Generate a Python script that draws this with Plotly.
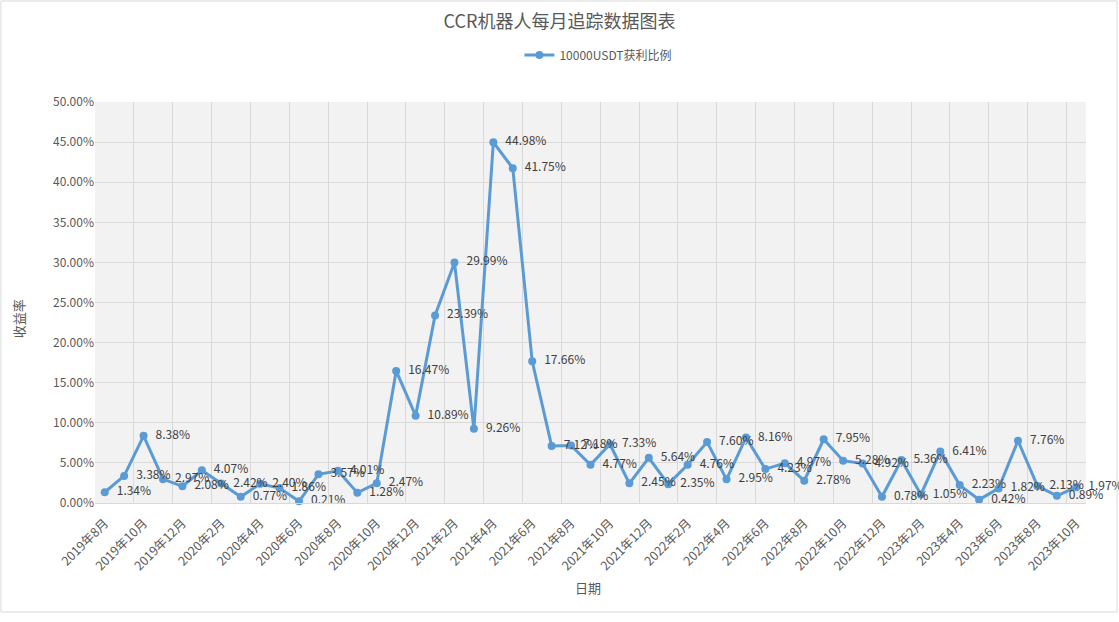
import plotly.graph_objects as go

months = [
    "2019年8月", "2019年9月", "2019年10月", "2019年11月", "2019年12月",
    "2020年1月", "2020年2月", "2020年3月", "2020年4月", "2020年5月", "2020年6月",
    "2020年7月", "2020年8月", "2020年9月", "2020年10月", "2020年11月", "2020年12月",
    "2021年1月", "2021年2月", "2021年3月", "2021年4月", "2021年5月", "2021年6月",
    "2021年7月", "2021年8月", "2021年9月", "2021年10月", "2021年11月", "2021年12月",
    "2022年1月", "2022年2月", "2022年3月", "2022年4月", "2022年5月", "2022年6月",
    "2022年7月", "2022年8月", "2022年9月", "2022年10月", "2022年11月", "2022年12月",
    "2023年1月", "2023年2月", "2023年3月", "2023年4月", "2023年5月", "2023年6月",
    "2023年7月", "2023年8月", "2023年9月", "2023年10月",
]
profit_pct = [
    1.34, 3.38, 8.38, 2.97, 2.08,
    4.07, 2.42, 0.77, 2.40, 1.86, 0.21,
    3.57, 4.01, 1.28, 2.47, 16.47, 10.89,
    23.39, 29.99, 9.26, 44.98, 41.75, 17.66,
    7.12, 7.18, 4.77, 7.33, 2.45, 5.64,
    2.35, 4.76, 7.60, 2.95, 8.16, 4.23,
    4.97, 2.78, 7.95, 5.28, 4.92, 0.78,
    5.36, 1.05, 6.41, 2.23, 0.42, 1.82,
    7.76, 2.13, 0.89, 1.97,
]
y_ticks = [0, 5, 10, 15, 20, 25, 30, 35, 40, 45, 50]

idx = list(range(len(months)))
tick_idx = idx[::2]
tick_text = [months[i] for i in tick_idx]

FONT = "Noto Sans CJK SC, Microsoft YaHei, sans-serif"

fig = go.Figure()
fig.add_trace(go.Scatter(
    x=idx,
    y=[v / 100 for v in profit_pct],
    mode="lines+markers+text",
    name="10000USDT获利比例",
    line=dict(color="#5b9bd5", width=3),
    marker=dict(color="#5b9bd5", size=8),
    text=[f"\u2002{v:.2f}%" for v in profit_pct],
    textposition="middle right",
    textfont=dict(family=FONT, size=12, color="#404040"),
    cliponaxis=False,
))

fig.update_layout(
    width=1119, height=622, autosize=False,
    margin=dict(l=95, r=33, t=102, b=119),
    paper_bgcolor="white",
    plot_bgcolor="#f2f2f2",
    font=dict(family=FONT, color="#595959", size=12),
    title=dict(text="CCR机器人每月追踪数据图表", x=0.5, xanchor="center",
               y=1 - 22 / 622, yanchor="middle",
               font=dict(family=FONT, size=18, color="#595959")),
    showlegend=True,
    legend=dict(orientation="h", x=0.508, xanchor="center", y=1.117, yanchor="middle",
                font=dict(family=FONT, size=12, color="#595959"),
                bgcolor="rgba(0,0,0,0)"),
    xaxis=dict(
        range=[-0.5, len(months) - 0.5],
        tickmode="array", tickvals=tick_idx, ticktext=tick_text,
        tickangle=-45, showgrid=False, zeroline=False,
        showline=True, linecolor="#d9d9d9", linewidth=1,
        ticks="", ticklabelstandoff=7,
        tickfont=dict(family=FONT, size=12.5, color="#595959"),
        minor=dict(tick0=-0.5, dtick=2, showgrid=True, gridcolor="#d9d9d9", gridwidth=1, ticks=""),
    ),
    yaxis=dict(
        range=[0, 0.5], tickmode="array", tickvals=[t / 100 for t in y_ticks],
        tickformat=".2%", showgrid=True, gridcolor="#d9d9d9", gridwidth=1,
        zeroline=False, ticks="", showline=False,
        tickfont=dict(family=FONT, size=12, color="#595959"),
    ),
    annotations=[
        dict(text="收益率", xref="paper", yref="paper", x=-0.0777, y=0.461,
             xanchor="center", yanchor="middle",
             textangle=-90, showarrow=False, font=dict(family=FONT, size=13, color="#595959")),
        dict(text="日期", xref="paper", yref="paper", x=0.4975, y=-0.2095,
             xanchor="center", yanchor="middle",
             showarrow=False, font=dict(family=FONT, size=13, color="#595959")),
    ],
    shapes=[
        dict(type="rect", xref="paper", yref="paper", x0=-0.0949, x1=1.0313,
             y0=-0.2718, y1=1.2519, line=dict(color="#d9d9d9", width=1), fillcolor="rgba(0,0,0,0)",
             layer="below"),
    ],
)

fig.write_html("out.html")
